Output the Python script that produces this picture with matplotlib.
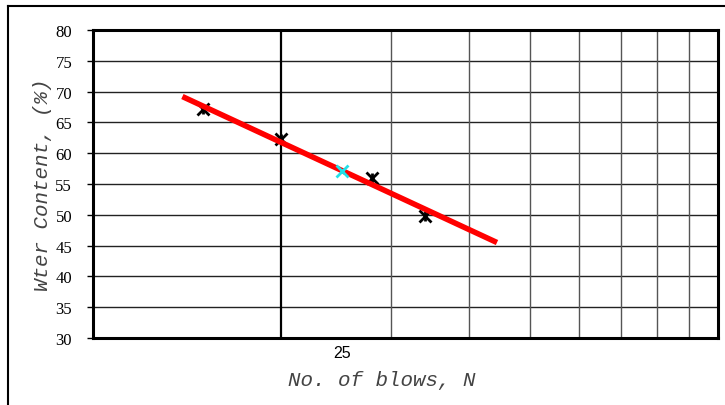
import matplotlib
matplotlib.use("Agg")
import matplotlib.pyplot as plt
from matplotlib.lines import Line2D

# measured points (blows, water content)
blows = [15, 20, 28, 34]
water = [67.2, 62.3, 56.0, 49.8]

# flow line
line_n = [13.9, 44.3]
line_w = [69.2, 45.5]

# liquid limit at 25 blows
ll_n = [25]
ll_w = [57.1]

y_ticks = [30, 35, 40, 45, 50, 55, 60, 65, 70, 75, 80]
grid_n = [20, 30, 40, 50, 60, 70, 80, 90]


def plot_chart():
    fig = plt.figure(figsize=(7.25, 4.06), dpi=100)
    ax = fig.add_axes([0.1283, 0.165, 0.862, 0.7586])

    ax.set_xscale("log")
    ax.set_xlim(10, 100)
    ax.set_ylim(30, 80)

    for y in y_ticks[1:-1]:
        ax.axhline(y, color="#222222", lw=1.0, zorder=1)
    for n in grid_n:
        lw = 1.6 if n == 20 else 1.0
        col = "black" if n == 20 else "#555555"
        ax.axvline(n, color=col, lw=lw, zorder=1)

    ax.plot(blows, water, "x", color="black", ms=8, mew=2, zorder=2)
    ax.plot(blows, water, "|", color="black", ms=7, mew=2, zorder=2)
    ax.plot(line_n, line_w, color="red", lw=4, solid_capstyle="butt", zorder=3)
    ax.plot(ll_n, ll_w, "x", color="#22e0e8", ms=9, mew=2, zorder=4)

    ax.set_yticks(y_ticks)
    ax.set_yticklabels([str(v) for v in y_ticks], family="Liberation Serif", fontsize=12)
    ax.tick_params(axis="y", direction="out", length=4, width=1, pad=11)
    ax.minorticks_off()
    ax.set_xticks([25])
    ax.set_xticklabels(["25"], family="Liberation Sans", fontsize=11.5)
    ax.tick_params(axis="x", length=0, pad=5)

    for s in ax.spines.values():
        s.set_linewidth(2.2)
        s.set_color("black")

    fig.text(0.059, 0.545, "Wter Content, (%)", rotation=90, ha="center", va="center",
             family="Liberation Mono", style="italic", fontsize=15, color="#444444")
    fig.text(0.527, 0.062, "No. of blows, N", ha="center", va="center",
             family="Liberation Mono", style="italic", fontsize=15, color="#444444")

    # outer frame
    fig.add_artist(Line2D([8 / 725, 1.0], [1 - 7 / 406, 1 - 7 / 406], color="black", lw=1.5,
                          transform=fig.transFigure))
    fig.add_artist(Line2D([8 / 725, 8 / 725], [0, 1 - 7 / 406], color="black", lw=1.5,
                          transform=fig.transFigure))

    fig.savefig("out.png", dpi=100)


plot_chart()
